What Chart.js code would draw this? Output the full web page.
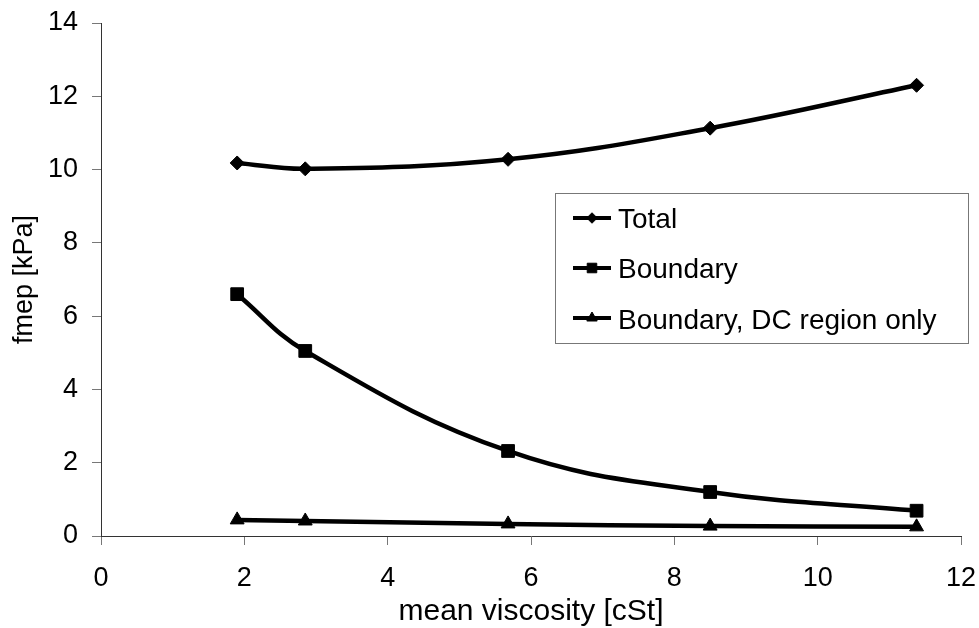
<!DOCTYPE html>
<html lang="en">
<head>
    <meta charset="UTF-8">
    <title>fmep vs mean viscosity</title>
    <script src="https://cdn.jsdelivr.net/npm/chart.js@4/dist/chart.umd.min.js"></script>
    <style>
        body { margin: 0; background: #fff; }
        canvas { display: block; }
    </style>
</head>
<body>
    <canvas id="canvas" width="979" height="628"></canvas>
    <script>
        // mean viscosity [cSt]
        var viscosity = [1.9, 2.85, 5.68, 8.5, 11.38];
        // fmep [kPa]
        var total = [10.18, 10.02, 10.28, 11.13, 12.3];
        var boundary = [6.6, 5.05, 2.32, 1.2, 0.69];
        var dcRegion = [0.44, 0.41, 0.33, 0.27, 0.25];

        var seriesNames = ['Total', 'Boundary', 'Boundary, DC region only'];
        var xTicks = [0, 2, 4, 6, 8, 10, 12];
        var yTicks = [0, 2, 4, 6, 8, 10, 12, 14];

        var FONT = 'Liberation Sans, Arial, sans-serif';

        function points(ys) {
            return viscosity.map(function (x, i) { return { x: x, y: ys[i] }; });
        }

        function series(label, ys, style, radius) {
            return {
                label: label,
                data: points(ys),
                borderColor: '#000',
                backgroundColor: '#000',
                borderWidth: 4.5,
                tension: 0.4,
                pointStyle: style,
                pointRadius: radius,
                pointBorderWidth: 1,
                pointHoverRadius: radius
            };
        }

        // fixed axis box sizes, no extra room for edge labels
        function fixSize(prop, size) {
            return function (scale) {
                scale[prop] = size;
                scale.paddingLeft = scale.paddingRight = 0;
                scale.paddingTop = scale.paddingBottom = 0;
            };
        }

        // boxed legend sitting inside the plot area
        var boxLegend = {
            id: 'boxLegend',
            afterDraw: function (chart) {
                var ctx = chart.ctx;
                var left = 555, top = 193, w = 413, h = 150;
                ctx.save();
                ctx.strokeStyle = '#777';
                ctx.lineWidth = 1;
                ctx.strokeRect(left + 0.5, top + 0.5, w, h);
                ctx.font = '28px ' + FONT;
                ctx.textBaseline = 'middle';
                ctx.fillStyle = '#000';
                chart.data.datasets.forEach(function (ds, i) {
                    var y = top + 25 + i * 50;
                    ctx.strokeStyle = '#000';
                    ctx.lineWidth = 4;
                    ctx.beginPath();
                    ctx.moveTo(573, y);
                    ctx.lineTo(611, y);
                    ctx.stroke();
                    ctx.lineWidth = 1;
                    Chart.helpers.drawPoint(ctx, {
                        pointStyle: ds.pointStyle,
                        radius: ds.pointRadius * 0.75,
                        rotation: 0,
                        borderWidth: 1
                    }, 592, y);
                    ctx.fillText(ds.label, 618, y + 2 + i * 0.7);
                });
                ctx.restore();
            }
        };

        new Chart(document.getElementById('canvas'), {
            type: 'line',
            data: {
                datasets: [
                    series(seriesNames[0], total, 'rectRot', 7),
                    series(seriesNames[1], boundary, 'rect', 9),
                    series(seriesNames[2], dcRegion, 'triangle', 8)
                ]
            },
            options: {
                responsive: false,
                animation: false,
                layout: { autoPadding: false, padding: { left: 0, right: 18, top: 23, bottom: 0 } },
                plugins: {
                    legend: { display: false },
                    tooltip: { enabled: false }
                },
                scales: {
                    x: {
                        type: 'linear',
                        min: 0,
                        max: 12,
                        afterBuildTicks: function (scale) {
                            scale.ticks = xTicks.map(function (v) { return { value: v }; });
                        },
                        afterFit: fixSize('height', 92),
                        grid: { drawOnChartArea: false, tickLength: 9, color: '#777' },
                        border: { color: '#333', width: 1 },
                        ticks: { color: '#000', padding: 17, maxRotation: 0, font: { family: FONT, size: 27 } },
                        title: {
                            display: true,
                            text: 'mean viscosity [cSt]',
                            color: '#000',
                            padding: { top: 0, bottom: 0 },
                            font: { family: FONT, size: 30, lineHeight: 1.1 }
                        }
                    },
                    y: {
                        min: 0,
                        max: 14,
                        afterBuildTicks: function (scale) {
                            scale.ticks = yTicks.map(function (v) { return { value: v }; });
                        },
                        afterFit: fixSize('width', 101),
                        grid: { drawOnChartArea: false, tickLength: 9, color: '#777' },
                        border: { color: '#333', width: 1 },
                        ticks: { color: '#000', padding: 14, font: { family: FONT, size: 27 } },
                        title: {
                            display: true,
                            text: 'fmep [kPa]',
                            color: '#000',
                            padding: { top: 8, bottom: 0 },
                            font: { family: FONT, size: 27 }
                        }
                    }
                }
            },
            plugins: [boxLegend]
        });
    </script>
</body>
</html>
